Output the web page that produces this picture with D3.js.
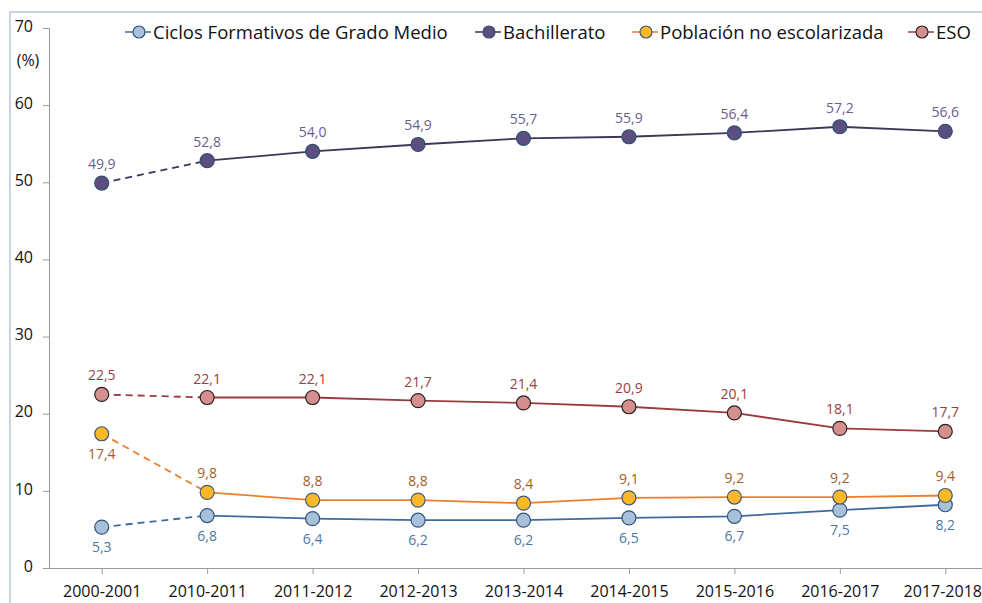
<!DOCTYPE html>
<html>
<head>
<meta charset="utf-8">
<script src="https://cdn.jsdelivr.net/npm/d3@7"></script>
<style>
  html, body { margin: 0; padding: 0; background: #fff; }
  svg { display: block; }
  svg text { font-family: "Open Sans", sans-serif; }
</style>
</head>
<body>
<div id="chart"></div>
<script>
// Categories and series values
const years = ['2000-2001', '2010-2011', '2011-2012', '2012-2013', '2013-2014',
  '2014-2015', '2015-2016', '2016-2017', '2017-2018'];
const ciclos = [5.3, 6.8, 6.4, 6.2, 6.2, 6.5, 6.7, 7.5, 8.2];
const bachillerato = [49.9, 52.8, 54.0, 54.9, 55.7, 55.9, 56.4, 57.2, 56.6];
const noEscolarizada = [17.4, 9.8, 8.8, 8.8, 8.4, 9.1, 9.2, 9.2, 9.4];
const eso = [22.5, 22.1, 22.1, 21.7, 21.4, 20.9, 20.1, 18.1, 17.7];
const yTicks = [0, 10, 20, 30, 40, 50, 60, 70];

const series = [
  { name: 'Ciclos Formativos de Grado Medio', values: ciclos, line: '#3e6a9e', fill: '#a8c0da', stroke: '#2f557e', label: '#4d76a6', pos: 'below' },
  { name: 'Bachillerato', values: bachillerato, line: '#3e3558', fill: '#5d4e80', stroke: '#2f4f70', label: '#6b5c8e', pos: 'above' },
  { name: 'Población no escolarizada', values: noEscolarizada, line: '#ef7d2c', fill: '#fdb827', stroke: '#3d5a78', label: '#a35c2e', pos: 'above', firstBelow: true },
  { name: 'ESO', values: eso, line: '#9a3b3e', fill: '#d68f8f', stroke: '#2b2020', label: '#9a3d40', pos: 'above' }
];

const width = 982, height = 603;
const margin = { top: 28, right: -16, bottom: 35, left: 49 };

const svg = d3.select('#chart').append('svg')
  .attr('width', width)
  .attr('height', height);

// outer chart frame (only top and left edges are visible)
svg.append('rect')
  .attr('x', 10).attr('y', 12)
  .attr('width', 1000).attr('height', 1000)
  .attr('fill', 'none')
  .attr('stroke', '#b9c5da')
  .attr('stroke-width', 1.5);

const x = d3.scalePoint()
  .domain(years)
  .range([margin.left, width - margin.right])
  .padding(0.5);

const y = d3.scaleLinear()
  .domain([0, 70])
  .range([height - margin.bottom, margin.top]);

// Y axis
const yAxis = d3.axisLeft(y).tickValues(yTicks).tickSize(6).tickPadding(10);
const yG = svg.append('g')
  .attr('transform', `translate(${margin.left},0)`)
  .call(yAxis)
  .attr('font-family', null);
yG.select('.domain').attr('stroke', '#999');
yG.selectAll('.tick line').attr('stroke', '#999');
yG.selectAll('.tick text')
  .attr('font-size', 16)
  .attr('fill', '#111')
  .attr('dy', '0.2em');

svg.append('text')
  .attr('x', 28).attr('y', 66)
  .attr('text-anchor', 'middle')
  .attr('font-size', 16)
  .attr('fill', '#111')
  .text('(%)');

// X axis
const xAxis = d3.axisBottom(x).tickSize(6).tickPadding(12).tickSizeOuter(0);
const xG = svg.append('g')
  .attr('transform', `translate(0,${height - margin.bottom})`)
  .call(xAxis)
  .attr('font-family', null);
xG.select('.domain').attr('stroke', '#999');
xG.selectAll('.tick line').attr('stroke', '#999');
xG.selectAll('.tick text')
  .attr('font-size', 16)
  .attr('fill', '#111');
// keep the last label inside the page edge
xG.selectAll('.tick text')
  .filter(d => d === years[years.length - 1])
  .attr('dx', -3);

// Lines: first segment dashed, rest solid
series.forEach(s => {
  const pts = s.values.map((v, i) => [x(years[i]), y(v)]);
  const line = d3.line();
  svg.append('path')
    .attr('d', line(pts.slice(0, 2)))
    .attr('fill', 'none')
    .attr('stroke', s.line)
    .attr('stroke-width', 1.8)
    .attr('stroke-dasharray', '7,5');
  svg.append('path')
    .attr('d', line(pts.slice(1)))
    .attr('fill', 'none')
    .attr('stroke', s.line)
    .attr('stroke-width', 1.8);
});

// Markers and data labels
series.forEach(s => {
  svg.append('g').selectAll('circle')
    .data(s.values)
    .join('circle')
    .attr('cx', (d, i) => x(years[i]))
    .attr('cy', d => y(d))
    .attr('r', 7)
    .attr('fill', s.fill)
    .attr('stroke', s.stroke)
    .attr('stroke-width', 1.2);

  svg.append('g').selectAll('text')
    .data(s.values)
    .join('text')
    .attr('x', (d, i) => x(years[i]))
    .attr('y', (d, i) => {
      const below = s.pos === 'below' || (s.firstBelow && i === 0);
      return y(d) + (below ? 25 : -14);
    })
    .attr('text-anchor', 'middle')
    .attr('font-size', 14)
    .attr('fill', s.label)
    .text(d => d3.format('.1f')(d).replace('.', ','));
});

// Legend
const legendX = [125, 475, 632, 908];
const legend = svg.append('g');
series.forEach((s, i) => {
  const g = legend.append('g').attr('transform', `translate(${legendX[i]},32)`);
  g.append('line')
    .attr('x1', 0).attr('x2', 26)
    .attr('stroke', s.line).attr('stroke-width', 1.5);
  g.append('circle')
    .attr('cx', 14).attr('r', 6)
    .attr('fill', s.fill).attr('stroke', s.stroke).attr('stroke-width', 1.2);
  g.append('text')
    .attr('x', 28).attr('y', 6.5)
    .attr('font-size', 18.5)
    .attr('fill', '#111')
    .text(s.name);
});
</script>
</body>
</html>
